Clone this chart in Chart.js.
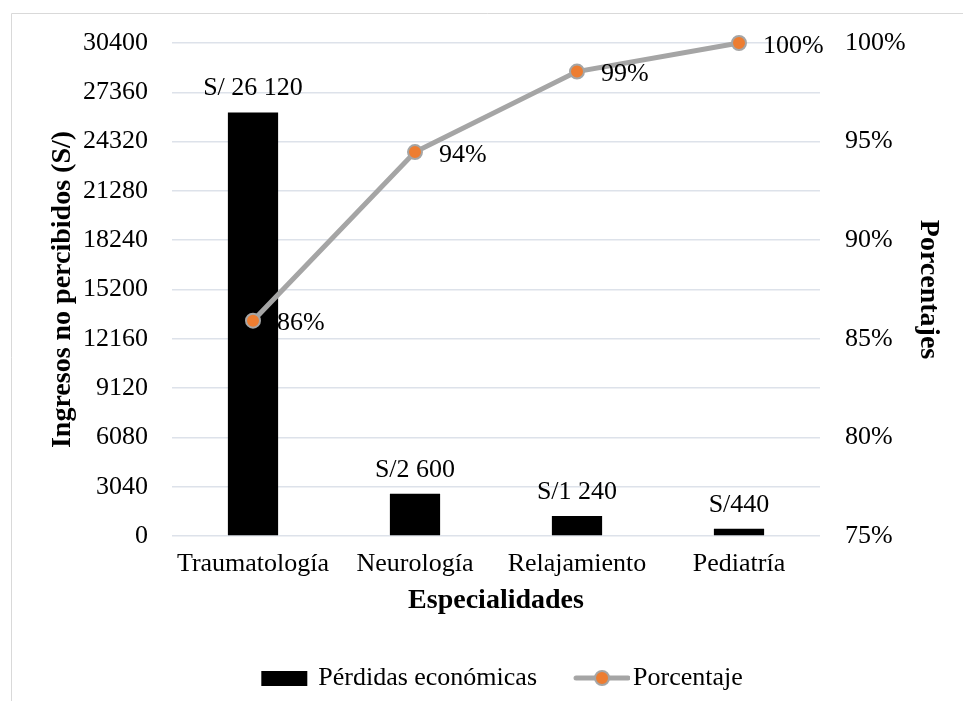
<!DOCTYPE html>
<html lang="es">
<head>
<meta charset="utf-8">
<title>Pérdidas económicas por especialidad</title>
<script src="https://cdn.jsdelivr.net/npm/chart.js@4/dist/chart.umd.min.js"></script>
<style>
  html, body { margin: 0; padding: 0; background: #ffffff; }
  #wrap { width: 963px; height: 701px; position: relative; }
</style>
</head>
<body>
<div id="wrap"><canvas id="chart" width="963" height="701"></canvas></div>
<script>
// Especialidades y pérdidas (S/)
const categories = ['Traumatología', 'Neurología', 'Relajamiento', 'Pediatría'];
const perdidas = [26120, 2600, 1240, 440];
const perdidasLabels = ['S/ 26 120', 'S/2 600', 'S/1 240', 'S/440'];
// Porcentaje acumulado
const porcentaje = [85.92, 94.47, 98.55, 100];
// Marcas de los ejes
const leftTicks = [0, 3040, 6080, 9120, 12160, 15200, 18240, 21280, 24320, 27360, 30400];
const rightTicks = [75, 80, 85, 90, 95, 100];

const SERIF = '"Liberation Serif", "Times New Roman", serif';
const FS = 26;
const FS_TITLE = 28;
const GRAY = '#a5a5a5';
const ORANGE = '#ed7d31';

// Legend symbols drawn on small canvases
function legendSymbol(kind) {
  const c = document.createElement('canvas');
  c.width = 76; c.height = 20;
  const g = c.getContext('2d');
  if (kind === 'bar') {
    g.fillStyle = '#000';
    g.fillRect(22, 3, 46, 15);
  } else {
    g.strokeStyle = GRAY; g.lineWidth = 5; g.lineCap = 'round';
    g.beginPath(); g.moveTo(22, 10); g.lineTo(74, 10); g.stroke();
    g.beginPath(); g.arc(48, 10, 7, 0, Math.PI * 2);
    g.fillStyle = ORANGE; g.fill();
    g.lineWidth = 2; g.strokeStyle = GRAY; g.stroke();
  }
  return c;
}
const symBar = legendSymbol('bar');
const symLine = legendSymbol('line');

// Outer frame lines
const framePlugin = {
  id: 'frame',
  beforeDraw(chart) {
    const ctx = chart.ctx;
    ctx.save();
    ctx.strokeStyle = '#d9d9d9';
    ctx.lineWidth = 1;
    ctx.beginPath();
    ctx.moveTo(11.5, chart.height);
    ctx.lineTo(11.5, 13.5);
    ctx.lineTo(chart.width, 13.5);
    ctx.stroke();
    ctx.restore();
  }
};

// Value labels over bars and next to points
const valueLabels = {
  id: 'valueLabels',
  afterDatasetsDraw(chart) {
    const ctx = chart.ctx;
    ctx.save();
    ctx.font = FS + 'px ' + SERIF;
    ctx.fillStyle = '#000';
    const bars = chart.getDatasetMeta(0).data;
    ctx.textAlign = 'center';
    ctx.textBaseline = 'middle';
    bars.forEach((el, i) => {
      ctx.fillText(perdidasLabels[i], el.x, el.y - 24);
    });
    const pts = chart.getDatasetMeta(1).data;
    ctx.textAlign = 'left';
    pts.forEach((el, i) => {
      ctx.fillText(Math.round(porcentaje[i]) + '%', el.x + 24, el.y + 3);
    });
    ctx.restore();
  }
};

Chart.defaults.font.family = SERIF;
Chart.defaults.font.size = FS;
Chart.defaults.color = '#000';

new Chart(document.getElementById('chart'), {
  data: {
    labels: categories,
    datasets: [
      {
        type: 'bar',
        label: 'Pérdidas económicas',
        data: perdidas,
        backgroundColor: '#000',
        yAxisID: 'y',
        categoryPercentage: 1,
        barPercentage: 0.31,
        order: 2
      },
      {
        type: 'line',
        label: 'Porcentaje',
        data: porcentaje,
        borderColor: GRAY,
        backgroundColor: ORANGE,
        borderWidth: 5,
        pointRadius: 7,
        pointBorderWidth: 2,
        pointBorderColor: GRAY,
        pointBackgroundColor: ORANGE,
        yAxisID: 'y1',
        order: 1,
        clip: false
      }
    ]
  },
  options: {
    responsive: false,
    animation: false,
    layout: { padding: { top: 43, bottom: 0, left: 0, right: 0 } },
    plugins: {
      tooltip: { enabled: false },
      legend: {
        position: 'bottom',
        fullSize: false,
        labels: {
          usePointStyle: true,
          pointStyleWidth: 56,
          boxHeight: 20,
          padding: 27,
          color: '#000',
          font: { size: FS, family: SERIF },
          generateLabels(chart) {
            return chart.data.datasets.map((ds, i) => ({
              text: ds.label,
              datasetIndex: i,
              pointStyle: i === 0 ? symBar : symLine,
              fillStyle: 'transparent',
              strokeStyle: 'transparent',
              lineWidth: 0,
              hidden: false
            }));
          }
        }
      }
    },
    scales: {
      x: {
        grid: { display: false },
        border: { display: false },
        ticks: { padding: 5, font: { size: FS } },
        title: {
          display: true,
          text: 'Especialidades',
          font: { size: FS_TITLE, weight: 'bold' },
          padding: { top: 2, bottom: 20 }
        },
        afterFit(scale) { scale.height = 102; }
      },
      y: {
        position: 'left',
        min: 0,
        max: 30400,
        afterBuildTicks(scale) { scale.ticks = leftTicks.map(v => ({ value: v })); },
        ticks: { padding: 24, font: { size: FS }, callback: v => String(v) },
        grid: { color: '#dde2ea', lineWidth: 1.5, drawTicks: false },
        border: { display: false },
        title: {
          display: true,
          text: 'Ingresos no percibidos (S/)',
          font: { size: FS_TITLE, weight: 'bold' },
          padding: { top: 46, bottom: 0 }
        },
        afterFit(scale) { scale.width = 172; }
      },
      y1: {
        position: 'right',
        min: 75,
        max: 100,
        afterBuildTicks(scale) { scale.ticks = rightTicks.map(v => ({ value: v })); },
        ticks: { padding: 25, font: { size: FS }, callback: v => v + '%' },
        grid: { display: false, drawTicks: false },
        border: { display: false },
        title: {
          display: true,
          text: 'Porcentajes',
          font: { size: FS_TITLE, weight: 'bold' },
          padding: { top: 18, bottom: 0 }
        },
        afterFit(scale) { scale.width = 143; }
      }
    }
  },
  plugins: [framePlugin, valueLabels]
});
</script>
</body>
</html>
